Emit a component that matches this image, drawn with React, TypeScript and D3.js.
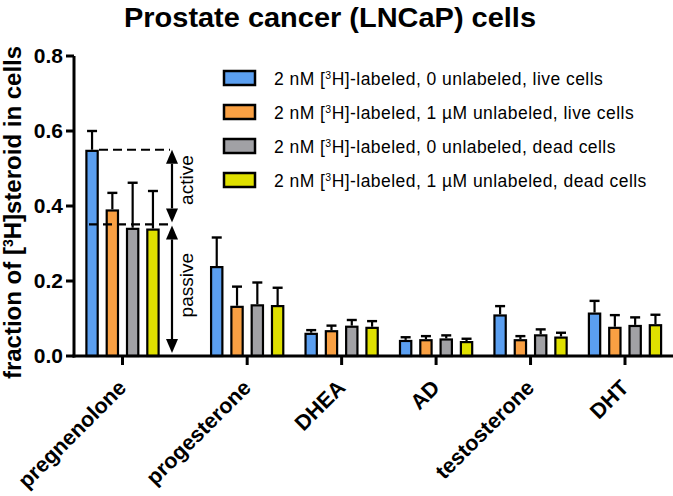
import React from "react";
import * as d3 from "d3";

const categories = ["pregnenolone", "progesterone", "DHEA", "AD", "testosterone", "DHT"];
const seriesNames = [
  "2 nM [3H]-labeled, 0 unlabeled, live cells",
  "2 nM [3H]-labeled, 1 µM unlabeled, live cells",
  "2 nM [3H]-labeled, 0 unlabeled, dead cells",
  "2 nM [3H]-labeled, 1 µM unlabeled, dead cells",
];
const liveNoCompetitor = [0.55, 0.24, 0.062, 0.043, 0.111, 0.116];
const liveCompetitor = [0.391, 0.134, 0.069, 0.045, 0.045, 0.078];
const deadNoCompetitor = [0.342, 0.138, 0.081, 0.047, 0.058, 0.083];
const deadCompetitor = [0.34, 0.136, 0.078, 0.04, 0.052, 0.085];
const liveNoCompetitorErr = [0.05, 0.076, 0.007, 0.007, 0.022, 0.031];
const liveCompetitorErr = [0.044, 0.051, 0.012, 0.008, 0.008, 0.031];
const deadNoCompetitorErr = [0.12, 0.058, 0.015, 0.008, 0.013, 0.02];
const deadCompetitorErr = [0.1, 0.046, 0.015, 0.006, 0.01, 0.025];
const yTicks = [0.0, 0.2, 0.4, 0.6, 0.8];
const activeLevel = 0.55;
const passiveLevel = 0.351;

const colors = ["#5b9ff0", "#f9a043", "#a1a1a5", "#dfe000"];
const values = [liveNoCompetitor, liveCompetitor, deadNoCompetitor, deadCompetitor];
const errors = [liveNoCompetitorErr, liveCompetitorErr, deadNoCompetitorErr, deadCompetitorErr];

const W = 673;
const H = 496;
const FONT = "'Liberation Sans', Arial, sans-serif";

export default function App() {
  const y = d3.scaleLinear().domain([0, 0.8]).range([356, 56]);
  const firstGap = 1.32;
  const slot = (i: number) => (i === 0 ? 0 : firstGap + i - 1);
  const x = d3.scaleLinear().domain([0, firstGap + 4]).range([122.5, 625]);
  const inner = d3
    .scaleBand<number>()
    .domain([0, 1, 2, 3])
    .range([-37.2, 37.2])
    .paddingInner(0.335);
  const bw = inner.bandwidth();
  const sw = 2.2;

  const legendY = [78, 112, 146, 180];

  const superLabel = (s: string) => {
    const parts = s.split("[3H]");
    return (
      <>
        {parts[0]}[<tspan baselineShift="super" fontSize="10.5">3</tspan>H]{parts[1]}
      </>
    );
  };

  const arrowX = 172;
  const headW = 6;
  const headH = 14;

  return (
    <svg width={W} height={H} style={{ position: "absolute", left: 0, top: 0 }} fontFamily={FONT}>
      <rect width={W} height={H} fill="#fff" />
      <text x={330} y={27} textAnchor="middle" fontSize={28.5} fontWeight="bold" textLength={412} lengthAdjust="spacingAndGlyphs">
        Prostate cancer (LNCaP) cells
      </text>

      {/* y axis label */}
      <text
        transform={`translate(21,212.5) rotate(-90)`}
        textAnchor="middle"
        fontSize={24}
        fontWeight="bold"
      >
        fraction of [<tspan baselineShift="super" fontSize="14">3</tspan>H]steroid in cells
      </text>

      {/* bars */}
      {categories.map((c, ci) => {
        const cx = x(slot(ci));
        return values.map((vals, si) => {
          const v = vals[ci];
          const e = errors[si][ci];
          const bx = cx + (inner(si) as number);
          const mid = bx + bw / 2;
          return (
            <g key={`${c}-${si}`}>
              <line x1={mid} x2={mid} y1={y(v)} y2={y(v + e)} stroke="#000" strokeWidth={2.2} />
              <line x1={mid - 5} x2={mid + 5} y1={y(v + e)} y2={y(v + e)} stroke="#000" strokeWidth={2.4} />
              <rect
                x={bx + sw / 2}
                y={y(v) + sw / 2}
                width={bw - sw}
                height={Math.max(0, y(0) - y(v) - sw / 2)}
                fill={colors[si]}
                stroke="#000"
                strokeWidth={sw}
              />
            </g>
          );
        });
      })}

      {/* axes */}
      <line x1={74} x2={74} y1={y(0.8)} y2={y(0) + 1.5} stroke="#000" strokeWidth={3} />
      <line x1={72.5} x2={673} y1={y(0)} y2={y(0)} stroke="#000" strokeWidth={3} />
      {yTicks.map((t) => (
        <g key={t}>
          <line x1={66} x2={74} y1={y(t)} y2={y(t)} stroke="#000" strokeWidth={3} />
          <text x={63} y={y(t) + 7} textAnchor="end" fontSize={21} fontWeight="bold">
            {t.toFixed(1)}
          </text>
        </g>
      ))}
      {categories.map((c, ci) => {
        const cx = x(slot(ci));
        return (
          <g key={c}>
            <line x1={cx} x2={cx} y1={y(0)} y2={y(0) + 9} stroke="#000" strokeWidth={3} />
            <text
              transform={`translate(${cx + 5},${y(0) + 33}) rotate(-45)`}
              textAnchor="end"
              fontSize={21.5}
              fontWeight="bold"
            >
              {c}
            </text>
          </g>
        );
      })}

      {/* annotation */}
      <line x1={99} x2={170} y1={y(activeLevel)} y2={y(activeLevel)} stroke="#000" strokeWidth={2.2} strokeDasharray="9,5" />
      <line x1={89} x2={170} y1={y(passiveLevel)} y2={y(passiveLevel)} stroke="#000" strokeWidth={2.2} strokeDasharray="9,5" />
      {/* active arrow */}
      <line x1={arrowX} x2={arrowX} y1={y(activeLevel) + headH} y2={y(passiveLevel) - 2 - headH} stroke="#000" strokeWidth={2.2} />
      <path d={`M${arrowX},${y(activeLevel)} l${-headW},${headH} h${headW * 2} z`} fill="#000" />
      <path d={`M${arrowX},${y(passiveLevel) - 2} l${-headW},${-headH} h${headW * 2} z`} fill="#000" />
      {/* passive arrow */}
      <line x1={arrowX} x2={arrowX} y1={y(passiveLevel) + 1 + headH} y2={y(0) - 3 - headH} stroke="#000" strokeWidth={2.2} />
      <path d={`M${arrowX},${y(passiveLevel) + 1} l${-headW},${headH} h${headW * 2} z`} fill="#000" />
      <path d={`M${arrowX},${y(0) - 3} l${-headW},${-headH} h${headW * 2} z`} fill="#000" />
      <text transform={`translate(193,${(y(activeLevel) + y(passiveLevel)) / 2 - 7}) rotate(-90)`} textAnchor="middle" fontSize={19}>
        active
      </text>
      <text transform={`translate(193,${(y(passiveLevel) + y(0)) / 2 - 5}) rotate(-90)`} textAnchor="middle" fontSize={19}>
        passive
      </text>

      {/* legend */}
      {seriesNames.map((s, i) => (
        <g key={s}>
          <rect x={224} y={legendY[i] - 7} width={31} height={14} fill={colors[i]} stroke="#000" strokeWidth={2.5} />
          <text x={274} y={legendY[i] + 6.5} fontSize={17.5} letterSpacing={0.45}>
            {superLabel(s)}
          </text>
        </g>
      ))}
    </svg>
  );
}
